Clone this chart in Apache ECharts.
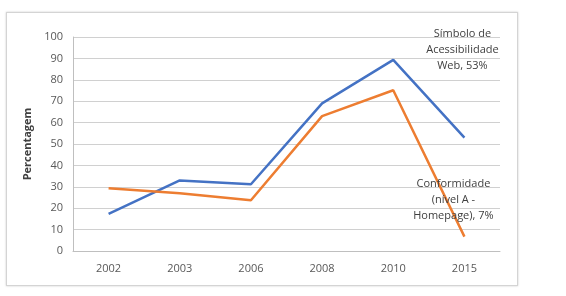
<!DOCTYPE html>
<html><head><meta charset="utf-8">
<script src="https://cdn.jsdelivr.net/npm/echarts@6/dist/echarts.min.js"></script>
<style>
html,body{margin:0;padding:0;background:#fff;}
#frame{position:absolute;left:6px;top:12px;width:510px;height:272px;border:1px solid #d4d4d4;box-shadow:0 0 2px #ccc;}
#c{position:absolute;left:0;top:0;width:566px;height:296px;}
</style></head>
<body>
<div id="frame"></div>
<div id="c"></div>
<script>
const categories = ['2002','2003','2006','2008','2010','2015'];
const simbolo = [17.3, 33, 31.2, 69, 89.3, 53];
const conformidade = [29.3, 27, 23.7, 63, 75.1, 6.7];
const yTicks = [0,10,20,30,40,50,60,70,80,90,100];

const font = 'Open Sans';
const chart = echarts.init(document.getElementById('c'));
function withEndLabel(arr, text, offset){
  return arr.map((v,i)=> i===arr.length-1 ? {value:v, label:{show:true, formatter:text, position:'inside', offset:offset, color:'#404040', fontSize:11, fontFamily:font, lineHeight:16, align:'center', verticalAlign:'middle'}} : v);
}
chart.setOption({
  animation:false,
  grid:{left:73,right:66,top:37,bottom:45},
  xAxis:{type:'category',data:categories,boundaryGap:true,
    axisLine:{lineStyle:{color:'#bfbfbf'}},axisTick:{show:false},
    axisLabel:{color:'#595959',fontSize:11,fontFamily:font,margin:12}},
  yAxis:{type:'value',min:yTicks[0],max:yTicks[yTicks.length-1],interval:10,
    name:'Percentagem',nameLocation:'middle',nameGap:32,
    nameTextStyle:{fontWeight:'bold',color:'#404040',fontSize:11,fontFamily:font},
    axisLine:{show:true,lineStyle:{color:'#bfbfbf'}},axisTick:{show:false},
    axisLabel:{color:'#595959',fontSize:11,fontFamily:font,margin:10},
    splitLine:{lineStyle:{color:'#d0d0d0',width:1}}},
  series:[
    {type:'line',data:withEndLabel(simbolo,'Símbolo de\nAcessibilidade\nWeb, 53%',[-2,-88]),symbol:'circle',symbolSize:0.01,showSymbol:true,
      lineStyle:{color:'#4472C4',width:2.5},itemStyle:{color:'#4472C4'}},
    {type:'line',data:withEndLabel(conformidade,'Conformidade\n(nível A -\nHomepage), 7%',[-11,-37]),symbol:'circle',symbolSize:0.01,showSymbol:true,
      lineStyle:{color:'#ED7D31',width:2.5},itemStyle:{color:'#ED7D31'}}
  ]
});
</script>
</body></html>
